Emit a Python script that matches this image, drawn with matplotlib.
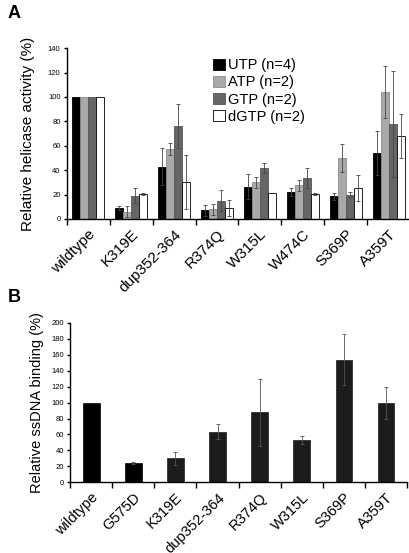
import matplotlib
matplotlib.use("Agg")
import matplotlib.pyplot as plt
import numpy as np

plt.rcParams['font.family'] = ['Liberation Sans', 'DejaVu Sans']

# panel A: helicase activity
mutants_a = ['wildtype', 'K319E', 'dup352-364', 'R374Q', 'W315L', 'W474C', 'S369P', 'A359T']
series_names = ['UTP (n=4)', 'ATP (n=2)', 'GTP (n=2)', 'dGTP (n=2)']
utp = [100, 9, 43, 7, 26.5, 22, 18.5, 54]
utp_err = [0, 2, 15, 4.5, 10.5, 3.5, 3, 18]
atp = [100, 6, 57.5, 8, 30, 27.5, 50, 104]
atp_err = [0, 4.5, 5, 4.5, 4.5, 4.5, 11.5, 21.5]
gtp = [100, 19, 76, 15, 42, 33.5, 20, 78]
gtp_err = [0, 6, 18, 8.5, 4, 8.5, 2, 43.5]
dgtp = [100, 20.5, 30.5, 9, 21.5, 20.5, 25.5, 68]
dgtp_err = [0, 1, 22, 6.5, 0, 1, 10.5, 18]

# panel B: ssDNA binding
mutants_b = ['wildtype', 'G575D', 'K319E', 'dup352-364', 'R374Q', 'W315L', 'S369P', 'A359T']
binding = [100, 24, 30, 63.5, 88, 53, 154, 99]
binding_err = [0, 1.5, 8.5, 9, 42, 5, 32, 20]

fig = plt.figure(figsize=(4.1, 5.53), dpi=100)

# ---- A ----
ax = fig.add_axes([0.163, 0.604, 0.837, 0.309])
x = np.arange(len(mutants_a))
w = 0.186
faces = ['black', '#a9a9a9', '#666666', 'white']
edges = ['black', '#8c8c8c', '#555555', 'black']
vals = [utp, atp, gtp, dgtp]
errs = [utp_err, atp_err, gtp_err, dgtp_err]
for i in range(4):
    ax.bar(x + (i - 1.5) * w, vals[i], w, color=faces[i], edgecolor=edges[i],
           linewidth=0.6, label=series_names[i])
    e = np.array(errs[i], dtype=float)
    m = e > 0
    ax.errorbar((x + (i - 1.5) * w)[m], np.array(vals[i])[m], yerr=e[m], fmt='none',
                ecolor='#444444', elinewidth=0.6, capsize=1.5, capthick=0.6)

ax.set_xlim(-0.5, len(mutants_a) - 0.5)
ax.set_ylim(0, 140)
ax.set_yticks(range(0, 141, 20))
ax.set_xticks(x)
ax.set_xticklabels(mutants_a, rotation=45, ha='right', rotation_mode='anchor', fontsize=11)
ax.set_xticks(np.arange(-0.5, len(mutants_a)), minor=True)
ax.tick_params(axis='x', which='major', length=0, pad=6)
ax.tick_params(axis='x', which='minor', length=4, width=1)
ax.tick_params(axis='y', labelsize=5.5, length=2.5, width=1, pad=2)
ax.spines['top'].set_visible(False)
ax.spines['right'].set_visible(False)
ax.spines['left'].set_linewidth(1)
ax.spines['bottom'].set_linewidth(1)
ax.set_ylabel('Relative helicase activity (%)', fontsize=11, labelpad=9)
ax.legend(loc='upper left', bbox_to_anchor=(0.41, 0.975), frameon=False, fontsize=10.5,
          handlelength=0.8, handleheight=0.8, handletextpad=0.2, labelspacing=0.22,
          borderaxespad=0)

fig.text(0.018, 0.975, 'A', fontsize=13, fontweight='bold', va='center')

# ---- B ----
bx = fig.add_axes([0.171, 0.128, 0.822, 0.288])
xb = np.arange(len(mutants_b))
colors_b = ['black', 'black'] + ['#1c1c1c'] * 6
bx.bar(xb, binding, 0.4, color=colors_b, edgecolor=colors_b, linewidth=0.5)
eb = np.array(binding_err, dtype=float)
mb = eb > 0
bx.errorbar(xb[mb], np.array(binding)[mb], yerr=eb[mb], fmt='none',
            ecolor='#555555', elinewidth=0.6, capsize=1.5, capthick=0.6)
bx.set_xlim(-0.5, len(mutants_b) - 0.5)
bx.set_ylim(0, 200)
bx.set_yticks(range(0, 201, 20))
bx.set_xticks(xb)
bx.set_xticklabels(mutants_b, rotation=45, ha='right', rotation_mode='anchor', fontsize=10.5)
bx.set_xticks(np.arange(-0.5, len(mutants_b)), minor=True)
bx.tick_params(axis='x', which='major', length=0, pad=6)
bx.tick_params(axis='x', which='minor', length=4, width=1)
bx.tick_params(axis='y', labelsize=5.5, length=2.5, width=1, pad=2)
bx.spines['top'].set_visible(False)
bx.spines['right'].set_visible(False)
bx.spines['left'].set_linewidth(1)
bx.spines['bottom'].set_linewidth(1)
bx.set_ylabel('Relative ssDNA binding (%)', fontsize=10.5, labelpad=5)

fig.text(0.018, 0.462, 'B', fontsize=13, fontweight='bold', va='center')

fig.savefig('out.png', dpi=100)
